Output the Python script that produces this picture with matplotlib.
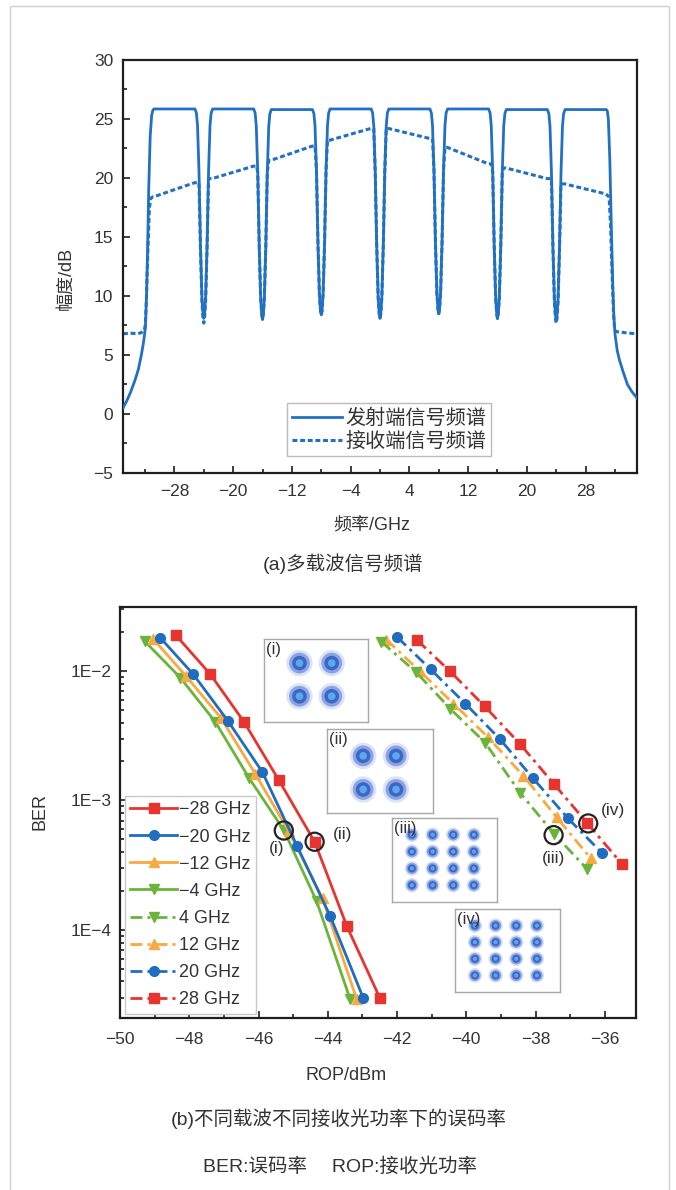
import math
import matplotlib
matplotlib.use('Agg')
import matplotlib.pyplot as plt
from matplotlib.patches import Rectangle
from matplotlib.ticker import MultipleLocator, FixedLocator, FuncFormatter, LogLocator, NullFormatter

plt.rcParams['font.family'] = ['Liberation Sans', 'Noto Sans CJK SC']
plt.rcParams['axes.unicode_minus'] = True

# ---------------- (a) spectrum data ----------------
carrier_centers = [-28, -20, -12, -4, 4, 12, 20, 28]
tx_flat_levels = [25.85, 25.85, 25.8, 25.85, 25.85, 25.85, 25.8, 25.8]
tx_dip_levels = [8.1, 8.0, 8.4, 8.1, 8.5, 8.1, 8.0]          # at -24,-16,...,24 GHz
rx_start_levels = [18.4, 19.95, 21.5, 23.2, 24.2, 22.6, 20.85, 19.5]
rx_end_levels = [19.6, 21.0, 22.7, 24.2, 23.35, 21.2, 19.95, 18.65]
rx_dip_levels = [7.7, 8.1, 8.4, 8.1, 8.5, 8.1, 7.7]
# carrier edge shape (offset from carrier centre in GHz, fraction of dip->top)
edge_right_offsets = [3.0, 3.15, 3.35, 3.55, 3.75, 3.9]
edge_right_fracs = [0.98, 0.92, 0.70, 0.35, 0.10, 0.02]
edge_left_offsets = [-3.9, -3.75, -3.55, -3.35, -3.15, -3.0]
edge_left_fracs = [0.02, 0.10, 0.35, 0.70, 0.92, 0.98]
# band edges
tx_left_edge_f = [-35, -34.5, -34, -33.4, -32.9, -32.5, -32.2, -31.95, -31.8, -31.65, -31.5, -31.3, -31.1, -30.95]
tx_left_edge_db = [0.5, 1.1, 1.8, 2.8, 3.8, 5.0, 6.1, 7.3, 10, 14, 19, 23.5, 25.3, 25.7]
tx_right_edge_f = [30.95, 31.1, 31.3, 31.5, 31.7, 31.85, 32.0, 32.3, 32.6, 33.1, 33.7, 34.3, 35]
tx_right_edge_db = [25.7, 25.0, 21.5, 16, 11, 8.3, 6.8, 5.4, 4.6, 3.6, 2.5, 1.9, 1.35]
rx_left_edge_f = [-35, -34, -33, -32.5, -32.1, -31.95, -31.8, -31.6, -31.4, -31.2, -30.95]
rx_left_edge_db = [6.8, 6.85, 6.8, 6.9, 7.1, 7.6, 10, 14, 17.5, 18.3, 18.4]
rx_right_edge_f = [31.2, 31.4, 31.6, 31.8, 31.95, 32.1, 32.5, 33.2, 34, 35]
rx_right_edge_db = [18.4, 16, 12, 8.5, 7.2, 7.0, 6.95, 6.9, 6.85, 6.8]

freq_ticks = [-28, -20, -12, -4, 4, 12, 20, 28]
legend_a = ['发射端信号频谱', '接收端信号频谱']

# ---------------- (b) BER data ----------------
ber_labels = ['−28 GHz', '−20 GHz', '−12 GHz', '−4 GHz', '4 GHz', '12 GHz', '20 GHz', '28 GHz']
rop_m28 = [-48.38, -47.40, -46.42, -45.41, -44.38, -43.45, -42.50]
ber_m28 = [1.88e-2, 9.5e-3, 4.05e-3, 1.43e-3, 4.8e-4, 1.07e-4, 3.0e-5]
rop_m20 = [-48.84, -47.88, -46.88, -45.89, -44.89, -43.93, -42.98]
ber_m20 = [1.81e-2, 9.4e-3, 4.1e-3, 1.66e-3, 4.47e-4, 1.28e-4, 3.0e-5]
rop_m12 = [-49.05, -48.09, -47.09, -46.09, -45.13, -44.15, -43.17]
ber_m12 = [1.78e-2, 9.1e-3, 4.36e-3, 1.6e-3, 5.8e-4, 1.75e-4, 2.95e-5]
rop_m4 = [-49.29, -48.26, -47.25, -46.28, -45.27, -44.32, -43.36]
ber_m4 = [1.7e-2, 8.9e-3, 4.05e-3, 1.5e-3, 5.9e-4, 1.66e-4, 2.95e-5]
rop_p4 = [-42.45, -41.45, -40.46, -39.46, -38.45, -37.46, -36.51]
ber_p4 = [1.68e-2, 9.8e-3, 5.1e-3, 2.8e-3, 1.15e-3, 5.5e-4, 2.95e-4]
rop_p12 = [-42.31, -41.35, -40.37, -39.37, -38.35, -37.39, -36.41]
ber_p12 = [1.75e-2, 1.0e-2, 5.6e-3, 3.07e-3, 1.55e-3, 7.4e-4, 3.58e-4]
rop_p20 = [-41.99, -41.03, -40.03, -39.02, -38.07, -37.07, -36.09]
ber_p20 = [1.82e-2, 1.03e-2, 5.6e-3, 2.96e-3, 1.48e-3, 7.3e-4, 3.95e-4]
rop_p28 = [-41.42, -40.47, -39.47, -38.46, -37.48, -36.51, -35.51]
ber_p28 = [1.73e-2, 9.95e-3, 5.34e-3, 2.75e-3, 1.35e-3, 6.7e-4, 3.24e-4]

circle_rop = [-45.27, -44.38, -37.48, -36.48]
circle_ber = [5.86e-4, 4.8e-4, 5.4e-4, 6.65e-4]
circle_labels = ['(i)', '(ii)', '(iii)', '(iv)']

qpsk_levels = [-1, 1]
qam16_levels = [-3, -1, 1, 3]
inset_labels = ['(i)', '(ii)', '(iii)', '(iv)']

# ---------------- figure ----------------
W, H = 676, 1190
fig = plt.figure(figsize=(W / 100, H / 100), dpi=100)
TXT = '#333333'
SPINE = '#1e1e1e'
BLUE_A = '#2270c3'


def px_rect(x0, y0, x1, y1):
    return [x0 / W, 1 - y1 / H, (x1 - x0) / W, (y1 - y0) / H]


def fx(x):
    return x / W


def fy(y):
    return 1 - y / H


# outer light frame
fig.patches.append(Rectangle((fx(10), -0.02), fx(669) - fx(10), fy(6) + 0.02,
                             transform=fig.transFigure, fill=False,
                             edgecolor='#cfcfcf', lw=1.0))


def style_axes(ax):
    for s in ax.spines.values():
        s.set_linewidth(1.6)
        s.set_color(SPINE)
    ax.tick_params(which='both', direction='in', top=False, right=False,
                   colors=SPINE, labelcolor=TXT, labelsize=12.5, width=1.2)
    ax.tick_params(which='major', length=5)
    ax.tick_params(which='minor', length=3)


# ---------- panel (a) ----------
ax1 = fig.add_axes(px_rect(123, 60, 637, 473))
n = len(carrier_centers)

tx_f = list(tx_left_edge_f)
tx_db = list(tx_left_edge_db)
for k, c in enumerate(carrier_centers):
    top = tx_flat_levels[k]
    if k > 0:
        d = tx_dip_levels[k - 1]
        for off, fr in zip(edge_left_offsets, edge_left_fracs):
            tx_f.append(c + off)
            tx_db.append(d + fr * (top - d))
    tx_f += [c - 2.8, c, c + 2.8]
    tx_db += [top, top, top]
    if k < n - 1:
        d = tx_dip_levels[k]
        for off, fr in zip(edge_right_offsets, edge_right_fracs):
            tx_f.append(c + off)
            tx_db.append(d + fr * (top - d))
        tx_f.append(c + 4)
        tx_db.append(d)
tx_f += tx_right_edge_f
tx_db += tx_right_edge_db

rx_f = list(rx_left_edge_f)
rx_db = list(rx_left_edge_db)
for k, c in enumerate(carrier_centers):
    top = tx_flat_levels[k]
    s, e = rx_start_levels[k], rx_end_levels[k]
    if k > 0:
        d = rx_dip_levels[k - 1]
        for off, fr in zip(edge_left_offsets, edge_left_fracs):
            rx_f.append(c + off)
            rx_db.append(min(s, d + fr * (top - d)))
    rx_f += [c - 2.85, c + 2.75]
    rx_db += [s, e]
    if k < n - 1:
        d = rx_dip_levels[k]
        for off, fr in zip(edge_right_offsets, edge_right_fracs):
            rx_f.append(c + off)
            rx_db.append(min(e, d + fr * (top - d)))
        rx_f.append(c + 4)
        rx_db.append(d)
rx_f += rx_right_edge_f
rx_db += rx_right_edge_db

ax1.plot(rx_f, rx_db, color=BLUE_A, lw=2.2, linestyle=(0, (1.6, 0.9)),
         label=legend_a[1], zorder=2)
ax1.plot(tx_f, tx_db, color=BLUE_A, lw=2.0, label=legend_a[0], zorder=3)
h, l = ax1.get_legend_handles_labels()
ax1.set_xlim(-35, 35)
ax1.set_ylim(-5, 30)
ax1.xaxis.set_major_locator(FixedLocator(freq_ticks))
ax1.xaxis.set_minor_locator(MultipleLocator(4))
ax1.yaxis.set_major_locator(MultipleLocator(5))
ax1.yaxis.set_minor_locator(MultipleLocator(2.5))
style_axes(ax1)
ax1.tick_params(axis='x', which='major', pad=8)
ax1.tick_params(axis='y', which='major', pad=7)
leg1 = ax1.legend([h[1], h[0]], [l[1], l[0]], loc='upper left',
                  bbox_to_anchor=(0.319, 0.169), borderaxespad=0,
                  fontsize=14.5, handlelength=2.5, handletextpad=0.15,
                  labelspacing=0.22, borderpad=0.25, frameon=True,
                  fancybox=False, framealpha=1, edgecolor='#bbbbbb')
leg1.get_frame().set_linewidth(1.0)
for t in leg1.get_texts():
    t.set_color(TXT)

fig.text(fx(66), fy(278), '幅度/dB', rotation=90, ha='center', va='center',
         fontsize=13, color=TXT)
fig.text(fx(372), fy(526), '频率/GHz', ha='center', va='center', fontsize=13, color=TXT)
fig.text(fx(343), fy(564), '(a)多载波信号频谱', ha='center', va='center',
         fontsize=14, color=TXT)

# ---------- panel (b) ----------
ax2 = fig.add_axes(px_rect(120, 607, 636, 1018))
RED, BLU, ORA, GRN = '#e8342f', '#1f6cc0', '#f8a93f', '#6ab43c'
dashdot = (0, (4.3, 1.8, 1.1, 1.8))
series = [
    (rop_m28, ber_m28, RED, 's', '-'),
    (rop_m20, ber_m20, BLU, 'o', '-'),
    (rop_m12, ber_m12, ORA, '^', '-'),
    (rop_m4, ber_m4, GRN, 'v', '-'),
    (rop_p4, ber_p4, GRN, 'v', dashdot),
    (rop_p12, ber_p12, ORA, '^', dashdot),
    (rop_p20, ber_p20, BLU, 'o', dashdot),
    (rop_p28, ber_p28, RED, 's', dashdot),
]
msize = {'s': 6.5, 'o': 7, '^': 7.5, 'v': 7.5}
lines = []
for i, (x, y, col, mk, ls) in enumerate(series):
    ln, = ax2.plot(x, y, color=col, marker=mk, markersize=msize[mk],
                   markeredgecolor=col, markerfacecolor=col, lw=2.0,
                   linestyle=ls, label=ber_labels[i], zorder=3 + (8 - i) * 0.01)
    lines.append(ln)

ax2.scatter(circle_rop, circle_ber, s=170, facecolors='none', edgecolors='#222222',
            linewidths=1.6, zorder=6)
label_offsets = [(-5, -13), (20, 5), (0, -17), (18, 9)]
for xr, yb, lab, off in zip(circle_rop, circle_ber, circle_labels, label_offsets):
    ax2.annotate(lab, (xr, yb), xytext=off, textcoords='offset points',
                 ha='center', va='center', fontsize=12.5, color=TXT, zorder=7)

ax2.set_yscale('log')
ax2.set_xlim(-50, -35.1)
ax2.set_ylim(2.09e-5, 3.12e-2)
ax2.xaxis.set_major_locator(MultipleLocator(2))
ax2.xaxis.set_minor_locator(MultipleLocator(1))
ax2.yaxis.set_major_locator(FixedLocator([1e-4, 1e-3, 1e-2]))
ax2.yaxis.set_major_formatter(FuncFormatter(lambda v, p: '1E−%d' % round(-math.log10(v))))
ax2.yaxis.set_minor_locator(LogLocator(base=10, subs=[2, 3, 4, 5, 6, 7, 8, 9]))
ax2.yaxis.set_minor_formatter(NullFormatter())
style_axes(ax2)
ax2.tick_params(axis='x', which='major', pad=10)
ax2.tick_params(axis='y', which='major', pad=6)

leg2 = ax2.legend(handles=lines, loc='upper left', bbox_to_anchor=(0.0095, 0.540),
                  borderaxespad=0, fontsize=13, handlelength=2.6,
                  handletextpad=0.12, labelspacing=0.56, borderpad=0.3,
                  frameon=True, fancybox=False, framealpha=1, edgecolor='#c8c8c8')
leg2.get_frame().set_linewidth(1.0)
leg2.set_zorder(8)
for t in leg2.get_texts():
    t.set_color(TXT)

fig.text(fx(40), fy(812), 'BER', rotation=90, ha='center', va='center',
         fontsize=13, color=TXT)
fig.text(fx(346), fy(1075), 'ROP/dBm', ha='center', va='center', fontsize=13, color=TXT)
fig.text(fx(339), fy(1119), '(b)不同载波不同接收光功率下的误码率', ha='center',
         va='center', fontsize=14, color=TXT)
fig.text(fx(340), fy(1167), 'BER:误码率\u3000 ROP:接收光功率', ha='center',
         va='center', fontsize=14, color=TXT)

# ---------- constellation insets ----------
inset_boxes = [(264, 639, 368, 722), (327, 729, 433, 813),
               (392, 818, 497, 902), (455, 909, 560, 992)]
inset_limits = [((-3.2, 3.25), (-2.55, 2.45)), ((-3.2, 3.25), (-2.4, 2.6)),
                ((-4.93, 5.24), (-5, 5)), ((-4.93, 5.24), (-5, 5))]
layer_colors = ['#dbe3f5', '#8aa3e2', '#3e66c8', '#5aaae8']
qpsk_layers = [19, 15, 10.5, 5.5]
qam_layers = [10.5, 8.2, 5.8, 3.0]
for j, (box, lims) in enumerate(zip(inset_boxes, inset_limits)):
    axi = fig.add_axes(px_rect(*box))
    axi.set_zorder(5)
    levels = qpsk_levels if j < 2 else qam16_levels
    sizes = qpsk_layers if j < 2 else qam_layers
    xs = [a for a in levels for b in levels]
    ys = [b for a in levels for b in levels]
    for d, col in zip(sizes, layer_colors):
        axi.scatter(xs, ys, s=d ** 2, color=col, edgecolors='none')
    axi.set_xlim(*lims[0])
    axi.set_ylim(*lims[1])
    axi.set_xticks([])
    axi.set_yticks([])
    for s in axi.spines.values():
        s.set_color('#a8a8a8')
        s.set_linewidth(1.0)
    axi.text(0.02, 0.96, inset_labels[j], transform=axi.transAxes, ha='left',
             va='top', fontsize=12, color=TXT)

fig.savefig('out.png', dpi=100)
